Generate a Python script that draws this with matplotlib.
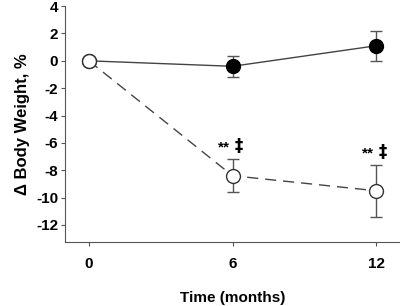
import matplotlib.pyplot as plt

months = [0, 6, 12]
control = [0, -0.4, 1.1]
control_err = [0, 0.75, 1.1]
treated = [0, -8.4, -9.5]
treated_err = [0, 1.2, 1.9]
marks = ["", "**", "**"]

plt.rcParams['font.family'] = ['Liberation Sans', 'DejaVu Sans']
plt.rcParams['font.weight'] = 'bold'
plt.rcParams['axes.unicode_minus'] = False

fig = plt.figure(figsize=(4, 3.06), dpi=100)
ax = fig.add_axes([0.1625, 0.209, 0.8375, 0.771])

ax.errorbar(months, control, yerr=control_err, color='#444444', lw=1,
            marker='o', ms=10, mfc='black', mec='black', capsize=4,
            elinewidth=1, ecolor='#555555')
ax.errorbar(months, treated, yerr=treated_err, color='#444444', lw=1,
            ls=(0, (8, 5)), marker='o', ms=10, mfc='white', mec='#333333',
            capsize=4, elinewidth=1, ecolor='#555555')

for x, y, e, m in zip(months, treated, treated_err, marks):
    if m:
        ax.text(x - 0.1, y + e + 0.35, m, ha='right', va='bottom', fontsize=11)
        ax.text(x + 0.1, y + e + 0.3, '\u2021', ha='left', va='bottom',
                fontsize=12, family='DejaVu Sans', fontweight='bold')

ax.set_xlim(-1, 13)
ax.set_ylim(-13.25, 4)
ax.set_xticks(months)
ax.set_yticks(range(-12, 5, 2))
ax.spines['top'].set_visible(False)
ax.spines['right'].set_visible(False)
ax.spines['left'].set_color('#555555')
ax.spines['bottom'].set_color('#555555')
ax.tick_params(direction='out', length=3, color='#555555', labelsize=11, pad=8)
ax.tick_params(axis='y', pad=2)
ax.set_xlabel('Time (months)', fontsize=11, fontweight='bold', labelpad=14)
ax.set_ylabel('\u0394 Body Weight, %', fontsize=12, fontweight='bold')

fig.savefig('out.png', dpi=100)
